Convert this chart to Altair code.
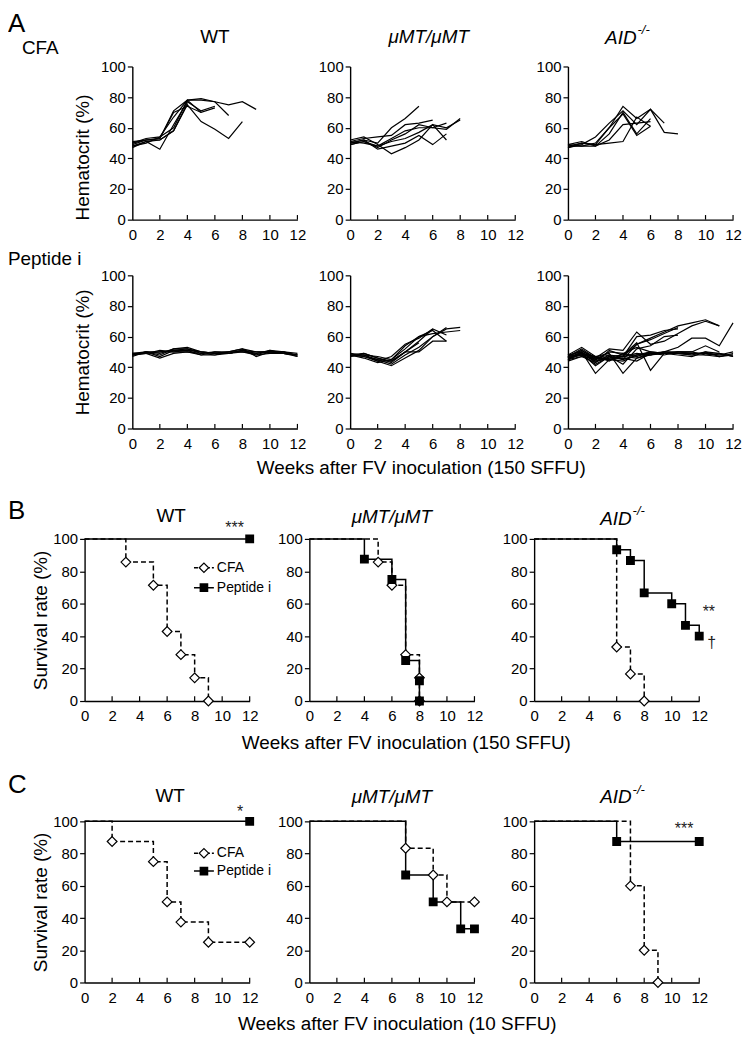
import altair as alt
import pandas as pd

FONT = "Liberation Sans"
W = 166
H_A = 154
H_B = 163
H_C = 162
WEEK_TICKS = [0, 2, 4, 6, 8, 10, 12]
PCT_TICKS = [0, 20, 40, 60, 80, 100]
STRAINS = ["WT", "μMT/μMT", "AID"]
SUP = "-/-"
GROUPS = ["CFA", "Peptide i"]
PANEL_LETTERS = ["A", "B", "C"]
ROW_LABELS = ["CFA", "Peptide i"]
X_TITLES = ["Weeks after FV inoculation (150 SFFU)", "Weeks after FV inoculation (10 SFFU)"]
Y_TITLES = ["Hematocrit (%)", "Survival rate (%)"]

# ---------------- Panel A: hematocrit (%) of each mouse, weeks 0,1,2,... ----------------
A_WT_CFA = [
    [49, 52, 53, 71, 78, 79, 77, 75, 77, 72],
    [50, 53, 54, 67, 78, 78, 77, 68],
    [48, 51, 52, 58, 75, 64, 59, 53, 64],
    [47, 51, 46, 62, 77, 71, 74],
    [51, 52, 53, 70, 74, 70, 73],
    [48, 50, 54, 60, 78, 70],
    [50, 52, 52, 58, 76],
]
A_MU_CFA = [
    [50, 52, 50, 60, 66, 74],
    [51, 53, 54, 55, 62, 63, 65],
    [49, 51, 47, 52, 56, 62, 60, 63],
    [52, 54, 49, 43, 47, 52, 62, 52],
    [50, 52, 46, 48, 50, 55, 49, 56],
    [51, 50, 48, 53, 58, 60, 60, 59, 66],
    [49, 51, 48, 51, 53, 57, 62, 60, 65],
]
A_AID_CFA = [
    [48, 50, 49, 60, 74, 66, 72, 63],
    [47, 49, 54, 63, 71, 62, 72, 57, 56],
    [49, 51, 48, 56, 70, 56, 66],
    [48, 48, 48, 52, 62, 63, 64],
    [47, 50, 49, 50, 51, 67, 61],
    [49, 48, 50, 60, 69, 55, 61],
]
A_WT_PEP = [
    [48, 50, 50, 51, 52, 50, 49, 49, 51, 50, 50, 49, 48],
    [49, 49, 46, 49, 50, 49, 48, 50, 50, 48, 51, 50, 48],
    [47, 50, 48, 52, 53, 50, 49, 50, 52, 47, 50, 50, 47],
    [48, 49, 51, 50, 51, 48, 50, 49, 51, 49, 51, 49, 48],
    [48, 50, 49, 52, 52, 49, 50, 50, 52, 50, 50, 50, 49],
    [49, 50, 47, 51, 51, 50, 49, 49, 50, 49, 50, 49, 47],
    [48, 49, 50, 50, 50, 48, 48, 49, 51, 48, 49, 49, 48],
]
A_MU_PEP = [
    [48, 49, 46, 44, 50, 57, 65],
    [47, 48, 45, 42, 48, 53, 60, 66],
    [48, 47, 44, 41, 46, 51, 60, 65, 66],
    [49, 48, 47, 45, 52, 60, 64, 57],
    [48, 46, 43, 45, 54, 60, 62, 63, 64],
    [47, 49, 46, 43, 50, 50, 57, 57],
    [48, 48, 44, 47, 55, 59, 65, 61],
    [48, 47, 45, 44, 50, 56],
]
A_AID_PEP = [
    [46, 50, 43, 48, 45, 55, 58, 62, 66],
    [47, 52, 46, 45, 47, 60, 61, 64, 65],
    [45, 49, 41, 47, 42, 52, 54, 60, 61],
    [47, 51, 46, 52, 51, 63, 55, 57, 62, 67, 70, 67],
    [46, 48, 44, 46, 47, 55, 59, 63, 67, 69, 71, 67],
    [48, 53, 47, 49, 36, 46, 48, 50, 53, 59, 59, 54, 69],
    [45, 50, 36, 45, 44, 48, 50, 49, 50, 50, 54, 50],
    [44, 47, 43, 51, 48, 56, 38, 49],
    [47, 51, 45, 50, 49, 53, 50],
    [47, 49, 45, 47, 48, 48, 49, 50, 50, 49, 49, 48, 48],
    [46, 48, 47, 44, 49, 47, 50, 49, 49, 48, 50, 49, 47],
    [48, 50, 44, 46, 47, 46, 49, 48, 50, 50, 48, 47, 49],
    [45, 47, 46, 48, 47, 49, 48, 50, 49, 49, 49, 48, 50],
    [46, 49, 47, 45, 46, 44, 49, 49, 48, 47, 50, 47, 48],
    [47, 48, 42, 47, 45, 48, 48, 49, 49, 48, 48, 49, 47],
]

# ---------------- Panels B and C: survival rate (%) step curves ----------------
B_WT_CFA_T = [0, 3, 5, 6, 7, 8, 9]
B_WT_CFA_S = [100, 85.7, 71.4, 42.9, 28.6, 14.3, 0]
B_WT_PEP_T = [0, 12]
B_WT_PEP_S = [100, 100]
B_MU_CFA_T = [0, 5, 6, 7, 8, 8]
B_MU_CFA_S = [100, 85.7, 71.4, 28.6, 14.3, 0]
B_MU_PEP_T = [0, 4, 6, 7, 8, 8]
B_MU_PEP_S = [100, 87.5, 75, 25, 12.5, 0]
B_AID_CFA_T = [0, 6, 7, 8]
B_AID_CFA_S = [100, 33.3, 16.7, 0]
B_AID_PEP_T = [0, 6, 7, 8, 10, 11, 12]
B_AID_PEP_S = [100, 93.3, 86.7, 66.7, 60, 46.7, 40]

C_WT_CFA_T = [0, 2, 5, 6, 7, 9, 12]
C_WT_CFA_S = [100, 87.5, 75, 50, 37.5, 25, 25]
C_WT_PEP_T = [0, 12]
C_WT_PEP_S = [100, 100]
C_MU_CFA_T = [0, 7, 9, 10, 12]
C_MU_CFA_S = [100, 83.3, 66.7, 50, 50]
C_MU_PEP_T = [0, 7, 9, 11, 12]
C_MU_PEP_S = [100, 66.7, 50, 33.3, 33.3]
C_AID_CFA_T = [0, 7, 8, 9]
C_AID_CFA_S = [100, 60, 20, 0]
C_AID_PEP_T = [0, 6, 12]
C_AID_PEP_S = [100, 87.5, 87.5]

# significance marks: (labels, weeks, values)
B_WT_NOTES = (["***"], [10.9], [106.5])
B_AID_NOTES = (["**", "†"], [12.7, 12.9], [55.0, 36.0])
C_WT_NOTES = (["*"], [11.3], [106.0])
C_AID_NOTES = (["***"], [10.9], [95.0])

XS = alt.Scale(domain=[0, 12], nice=False, zero=False)
YS = alt.Scale(domain=[0, 100], nice=False)


def x_axis(title=None, tx=0, ty=0):
    kw = dict(values=WEEK_TICKS, ticks=False, grid=False, domainColor="black", domainWidth=1.4,
              labelFont=FONT, labelFontSize=15, labelColor="black", labelPadding=8,
              labelFlush=False, labelOverlap=False, tickCount=7)
    if title:
        kw.update(title=title, titleFont=FONT, titleFontSize=19, titleFontWeight="normal",
                  titleColor="black", titleX=tx, titleY=ty, titleAlign="center",
                  titleBaseline="middle", titleAngle=0)
    else:
        kw["title"] = None
    return alt.Axis(**kw)


def y_axis(h, title=None, tx=-50, ty=None):
    kw = dict(values=PCT_TICKS, tickSize=5, tickColor="black", tickWidth=1.2, grid=False,
              domainColor="black", domainWidth=1.4, labelFont=FONT, labelFontSize=15,
              labelColor="black", labelPadding=2, labelOverlap=False, tickCount=6)
    if title:
        kw.update(title=title, titleFont=FONT, titleFontSize=19, titleFontWeight="normal",
                  titleColor="black", titleX=tx, titleY=(h / 2 if ty is None else ty),
                  titleAngle=270, titleAlign="center", titleBaseline="middle")
    else:
        kw["title"] = None
    return alt.Axis(**kw)


def text_layer(txt, x, y, size, style="normal", align="center", color="black"):
    return alt.Chart(pd.DataFrame({"t": [txt]})).mark_text(
        font=FONT, fontSize=size, fontStyle=style, align=align, baseline="middle", color=color
    ).encode(x=alt.value(x), y=alt.value(y), text="t:N")


def spacer(w):
    return alt.Chart(pd.DataFrame({"t": [""]})).mark_text().encode(
        x=alt.value(0), y=alt.value(0), text="t:N").properties(width=w, height=10)


def title_layers(idx, ty, dx=0):
    if idx == 2:
        return [text_layer(STRAINS[2], W / 2 + 15 + dx, ty + 1, 19, "italic", "right"),
                text_layer(SUP, W / 2 + 16 + dx, ty - 7, 13, "italic", "left")]
    style = "italic" if idx == 1 else "normal"
    return [text_layer(STRAINS[idx], W / 2 + dx, ty, 19, style)]


def tick_layer(X, Y):
    df = pd.DataFrame({"week": WEEK_TICKS[1:], "val": [0] * 6, "val2": [3.0] * 6})
    return alt.Chart(df).mark_rule(color="black", strokeWidth=1.2).encode(x=X, y=Y, y2="val2:Q")


def traces_df(traces):
    rows = []
    for m, vals in enumerate(traces):
        for w, v in enumerate(vals):
            rows.append({"week": w, "val": v, "mouse": m})
    return pd.DataFrame(rows)


def hct_panel(traces, col, ty=None, extra=(), xtitle=None, yt=None, tdx=0):
    df = traces_df(traces)
    yax = y_axis(H_A, Y_TITLES[0], -50, yt) if col == 0 else y_axis(H_A)
    xax = x_axis(xtitle, 71, 39) if xtitle else x_axis()
    X = alt.X("week:Q", scale=XS, axis=xax)
    Y = alt.Y("val:Q", scale=YS, axis=yax)
    lines = alt.Chart(df).mark_line(color="black", strokeWidth=1.2).encode(
        x=X, y=Y, detail="mouse:N")
    layers = [lines, tick_layer(X, Y)]
    if ty is not None:
        layers += title_layers(col, ty, tdx)
    layers += list(extra)
    return alt.layer(*layers).properties(width=W, height=H_A)


def legend_layers(y1, y2):
    out = []
    for lab, yy, dashed in [(GROUPS[0], y1, True), (GROUPS[1], y2, False)]:
        d = pd.DataFrame({"t": [lab]})
        rule = alt.Chart(d).mark_rule(color="black", strokeWidth=1.5,
                                      strokeDash=[4, 2] if dashed else [1, 0]).encode(
            x=alt.value(110), x2=alt.value(130), y=alt.value(yy))
        if dashed:
            pt = alt.Chart(d).mark_point(shape="diamond", filled=True, fill="white", stroke="black",
                                         strokeWidth=1.2, size=90, opacity=1).encode(
                x=alt.value(120), y=alt.value(yy))
        else:
            pt = alt.Chart(d).mark_point(shape="square", filled=True, fill="black", stroke="black",
                                         size=45, opacity=1).encode(
                x=alt.value(120), y=alt.value(yy))
        txt = alt.Chart(d).mark_text(font=FONT, fontSize=14, align="left", baseline="middle",
                                     color="black").encode(
            x=alt.value(133), y=alt.value(yy), text="t:N")
        out += [rule, pt, txt]
    return out


def surv_panel(cfa_t, cfa_s, pep_t, pep_s, h, col, ty, notes=None, extra=(), xtitle=None,
               xt=(0, 0), tdx=0):
    cfa = pd.DataFrame({"week": cfa_t, "val": cfa_s})
    pep = pd.DataFrame({"week": pep_t, "val": pep_s})
    yax = y_axis(h, Y_TITLES[1], -44) if col == 0 else y_axis(h)
    xax = x_axis(xtitle, xt[0], xt[1]) if xtitle else x_axis()
    X = alt.X("week:Q", scale=XS, axis=xax)
    Y = alt.Y("val:Q", scale=YS, axis=yax)
    pep_line = alt.Chart(pep).mark_line(interpolate="step-after", color="black",
                                        strokeWidth=1.5).encode(x=X, y=Y)
    cfa_line = alt.Chart(cfa).mark_line(interpolate="step-after", color="black", strokeWidth=1.5,
                                        strokeDash=[5, 3]).encode(x=X, y=Y)
    cfa_pts = alt.Chart(cfa.iloc[1:]).mark_point(shape="diamond", filled=True, fill="white",
                                                 stroke="black", strokeWidth=1.2, size=95,
                                                 opacity=1).encode(x=X, y=Y)
    pep_pts = alt.Chart(pep.iloc[1:]).mark_point(shape="square", filled=True, fill="black",
                                                 stroke="black", size=48, opacity=1).encode(
        x=X, y=Y)
    layers = [pep_line, cfa_line, tick_layer(X, Y), cfa_pts, pep_pts]
    if notes is not None:
        labs, ws, vs = notes
        nd = pd.DataFrame({"t": labs, "week": ws, "val": vs})
        layers.append(alt.Chart(nd).mark_text(font=FONT, fontSize=16, color="#222",
                                              baseline="middle").encode(
            x=X, y=Y, text="t:N"))
    layers += title_layers(col, ty, tdx)
    layers += list(extra)
    return alt.layer(*layers).properties(width=W, height=h)


# ---------------- rows (a narrow leading spacer sets each row's left offset) ----------------
a1 = alt.hconcat(
    spacer(56),
    hct_panel(A_WT_CFA, 0, -30, yt=H_A / 2 + 14,
              extra=[text_layer(PANEL_LETTERS[0], -125, -43, 26, align="left"),
                     text_layer(ROW_LABELS[0], -111, -19, 19, align="left")]),
    hct_panel(A_MU_CFA, 1, -30, tdx=-4),
    hct_panel(A_AID_CFA, 2, -30, tdx=-29),
    spacing=53, bounds="flush")

a2 = alt.hconcat(
    spacer(56),
    hct_panel(A_WT_PEP, 0, extra=[text_layer(ROW_LABELS[1], -125, -16, 19, align="left")]),
    hct_panel(A_MU_PEP, 1, xtitle=X_TITLES[0]),
    hct_panel(A_AID_PEP, 2),
    spacing=53, bounds="flush")

b = alt.hconcat(
    spacer(1),
    surv_panel(B_WT_CFA_T, B_WT_CFA_S, B_WT_PEP_T, B_WT_PEP_S, H_B, 0, -23, notes=B_WT_NOTES,
               tdx=4,
               extra=[text_layer(PANEL_LETTERS[1], -77, -28, 26, align="left")] + legend_layers(29, 49)),
    surv_panel(B_MU_CFA_T, B_MU_CFA_S, B_MU_PEP_T, B_MU_PEP_S, H_B, 1, -22,
               xtitle=X_TITLES[0], xt=(97, 42)),
    surv_panel(B_AID_CFA_T, B_AID_CFA_S, B_AID_PEP_T, B_AID_PEP_S, H_B, 2, -21, notes=B_AID_NOTES),
    spacing=60, bounds="flush")

c = alt.hconcat(
    spacer(1),
    surv_panel(C_WT_CFA_T, C_WT_CFA_S, C_WT_PEP_T, C_WT_PEP_S, H_C, 0, -25, notes=C_WT_NOTES,
               tdx=3,
               extra=[text_layer(PANEL_LETTERS[2], -77, -37, 26, align="left")] + legend_layers(32, 50)),
    surv_panel(C_MU_CFA_T, C_MU_CFA_S, C_MU_PEP_T, C_MU_PEP_S, H_C, 1, -24,
               xtitle=X_TITLES[1], xt=(88, 41)),
    surv_panel(C_AID_CFA_T, C_AID_CFA_S, C_AID_PEP_T, C_AID_PEP_S, H_C, 2, -25, notes=C_AID_NOTES),
    spacing=60, bounds="flush")

sec_a = alt.concat(a1, a2, columns=1, spacing=8, align="none")
sec_bc = alt.concat(b, c, columns=1, spacing=19, align="none")

chart = alt.concat(sec_a, sec_bc, columns=1, spacing=21, align="none").properties(
    padding={"left": 0, "top": 0, "right": 0, "bottom": 0}, background="white"
).configure_view(stroke=None).configure_axis(labelOverlap=False)

chart.save("out.html", embed_options={"renderer": "svg", "actions": False})
